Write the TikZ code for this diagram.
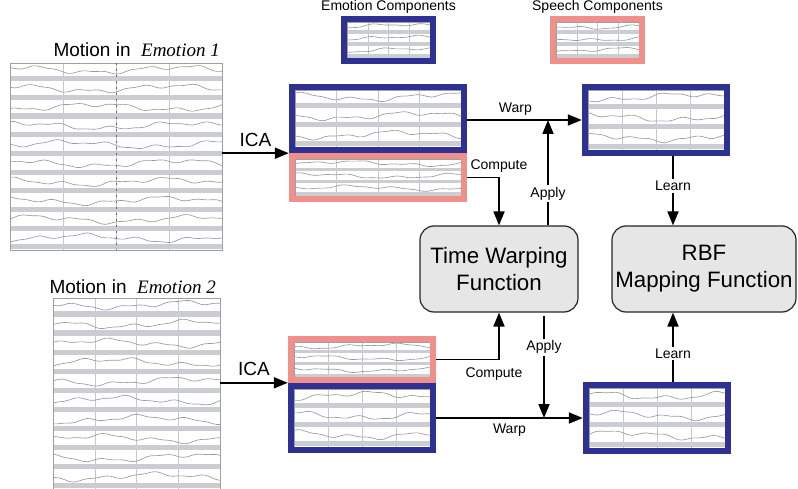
\documentclass[tikz,border=0pt]{standalone}
\usepackage{fontspec}
\setmainfont{Liberation Sans}
\newfontfamily\serifit{Liberation Serif}
\usetikzlibrary{arrows.meta,fit,calc}
\definecolor{emblue}{HTML}{2E3192}
\definecolor{sppink}{HTML}{F0908A}
\definecolor{bandgray}{HTML}{CACDD1}
\definecolor{wavegray}{HTML}{9A9A9A}
\definecolor{gridgray}{HTML}{C4C8CC}
\definecolor{funcgray}{HTML}{E6E6E6}
\newcommand\wavepanel[5]{%
 \pgfmathsetmacro\wxa{#1}\pgfmathsetmacro\wya{#2}%
 \pgfmathsetmacro\wxb{#3}\pgfmathsetmacro\wyb{#4}%
 \pgfmathsetmacro\rowh{(\wyb-\wya)/#5}%
 \fill[white] (\wxa,\wya) rectangle (\wxb,\wyb);
 \foreach \k in {1,2,3}{%
   \pgfmathsetmacro\vx{\wxa+\k*(\wxb-\wxa)/4}%
   \draw[gridgray,line width=0.5pt] (\vx,\wya) -- (\vx,\wyb);
 }
 \foreach \i in {1,...,#5}{%
   \pgfmathsetmacro\yt{\wya+(\i-1)*\rowh}%
   \fill[bandgray] (\wxa,\yt+0.70*\rowh) rectangle (\wxb,\yt+0.97*\rowh);
   \pgfmathsetmacro\pa{rnd*360}%
   \pgfmathsetmacro\pb{rnd*360}%
   \pgfmathsetmacro\pc{rnd*360}%
   \draw[wavegray,line width=0.65pt] plot[smooth,domain=\wxa:\wxb,samples=45]
     (\x,{\yt+0.36*\rowh+0.15*\rowh*sin(2.2*\x+\pa)+0.09*\rowh*sin(7*\x+\pb)+0.04*\rowh*sin(15*\x+\pc)});
 }
 \draw[gridgray!80!black,line width=0.7pt] (\wxa,\wya) rectangle (\wxb,\wyb);
}
% name, colour, x0, y0, x1, y1, rows
\newcommand\compbox[7]{%
 \node[fit={(#3,#4) (#5,#6)},inner sep=0pt] (#1) {};
 \wavepanel{#3+6}{#4+6}{#5-6}{#6-6}{#7}
 \draw[#2,line width=6pt] (#3+3,#4+3) rectangle (#5-3,#6-3);
}
\tikzset{
 lbl/.style={font=\fontsize{14}{16}\selectfont,inner sep=1pt},
 lblbg/.style={font=\fontsize{14}{16}\selectfont,fill=white,inner sep=2pt},
 big/.style={font=\fontsize{19}{22}\selectfont,inner sep=0pt},
 arr/.style={line width=1.8pt,-{Triangle[length=14pt,width=11pt]}},
 func/.style={draw=black!85,line width=1.2pt,fill=funcgray,rounded corners=14pt,
   align=center,font=\fontsize{22.3}{27}\selectfont,inner sep=0pt},
}
\begin{document}
\begin{tikzpicture}[x=1pt,y=-1pt]
\useasboundingbox (0,0) rectangle (798,489);
\pgfmathsetseed{11}
% motion panels
\node[fit={(10,63) (222,250)},inner sep=0pt] (m1) {};
\wavepanel{10}{63}{222}{250}{10}
\draw[black!60,line width=0.7pt,dash pattern=on 2pt off 4pt] (116,63) -- (116,250);
\node[big,anchor=base east] (t1) at (220,57) {Motion in \ {\serifit\itshape Emotion 1}};
\node[fit={(53,298) (220,489)},inner sep=0pt] (m2) {};
\wavepanel{53}{298}{220}{489}{10}
\node[big,anchor=base east] (t2) at (216,294) {Motion in \ {\serifit\itshape Emotion 2}};
% legend
\compbox{le}{emblue}{341}{16}{436}{64}{3}
\compbox{ls}{sppink}{550}{16}{645}{64}{3}
\node[lbl,anchor=south] (lel) at ([yshift=1pt]le.north) {Emotion Components};
\node[lbl,anchor=south] (lsl) at ([yshift=1pt]ls.north) {Speech Components};
% component boxes
\compbox{e1}{emblue}{289}{84}{467}{153}{3}
\compbox{s1}{sppink}{289}{153}{467}{202}{3}
\compbox{w1}{emblue}{582}{84}{730}{156}{3}
\compbox{s2}{sppink}{288}{336}{436}{383}{3}
\compbox{e2}{emblue}{288}{383}{436}{453}{3}
\compbox{w2}{emblue}{583}{382}{731}{454}{3}
% function boxes
\node[func,minimum width=158pt,minimum height=86pt] (twf) at (499,269) {Time Warping\\Function};
\node[func,minimum width=184pt,minimum height=86pt] (rbf) at (704,269) {RBF\\Mapping Function};
% connectors
\draw[arr] (m1.east |- e1.south west) -- node[big,above=6pt] {ICA} (e1.south west);
\draw[arr] (m2.east |- e2.north west) -- node[big,above=6pt] {ICA} (e2.north west);
\draw[arr] (e1.east |- w1.west) -- node[lbl,above=3pt,pos=0.42] {Warp} (w1.west);
\draw[arr] (e2.east |- w2.west) -- node[lbl,below=4pt] {Warp} (w2.west);
\draw[arr] (s1.east) -| node[lbl,above=3pt,pos=0.5] {Compute} (twf.north);
\draw[arr] (s2.east) -| node[lbl,below=6pt,pos=0.5,xshift=-5pt] {Compute} (twf.south);
\draw[arr] ([xshift=49pt]twf.north) -- node[lblbg,pos=0.3] {Apply} ([xshift=49pt]twf.north |- w1.west);
\draw[arr] ([xshift=45pt,yshift=-3pt]twf.south) -- node[lblbg,pos=0.31] {Apply} ([xshift=45pt]twf.south |- w2.west);
\draw[arr] ([xshift=17pt]w1.south) -- node[lblbg,pos=0.43] {Learn} ([xshift=17pt]w1.south |- rbf.north);
\draw[arr] ([xshift=16pt]w2.north) -- node[lblbg,pos=0.41] {Learn} ([xshift=16pt]w2.north |- rbf.south);
\end{tikzpicture}
\end{document}
